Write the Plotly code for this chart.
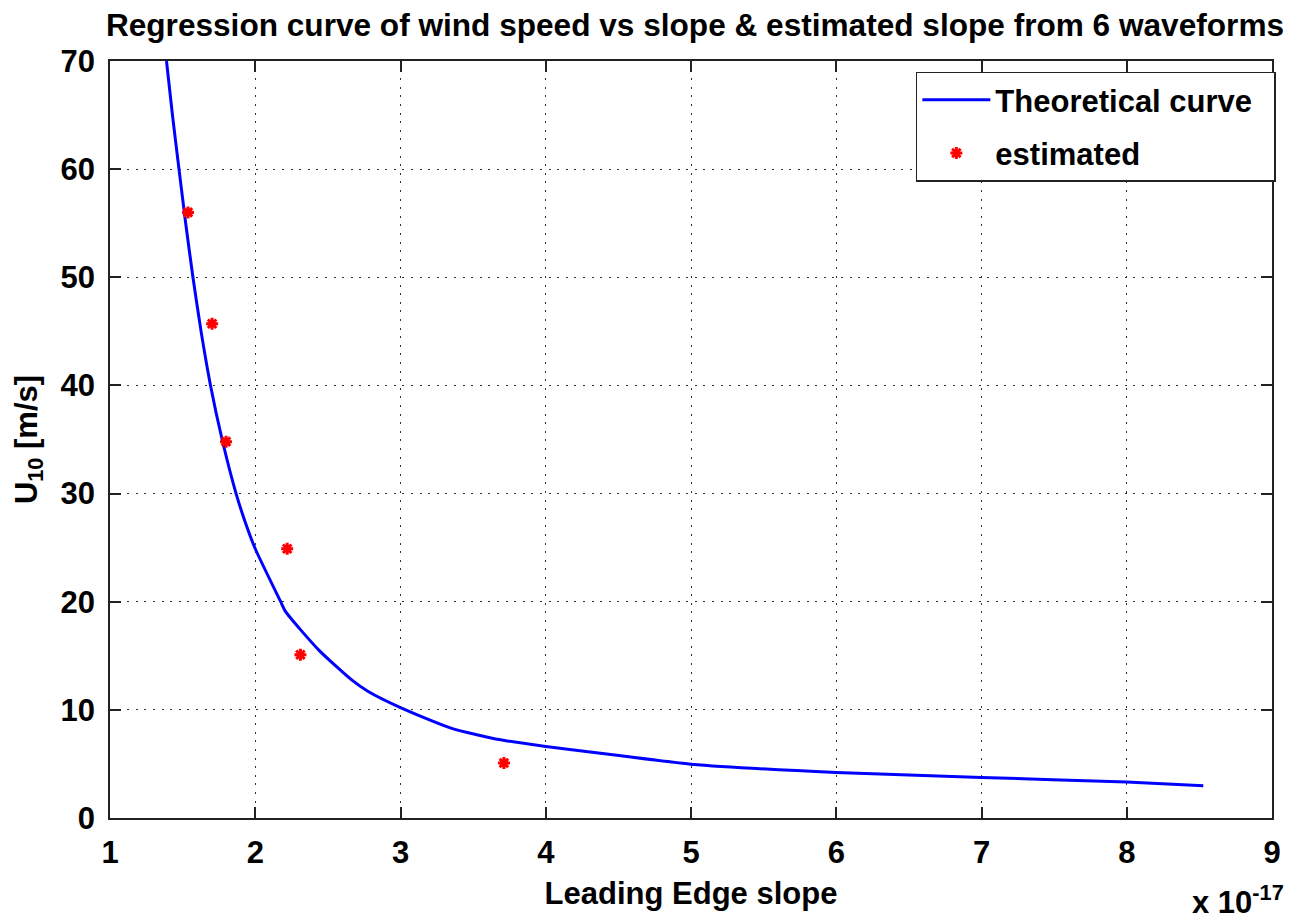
import plotly.graph_objects as go

# Theoretical regression curve
curve_slope = [1.389, 1.430, 1.475, 1.521, 1.571, 1.627, 1.692, 1.772, 1.868, 1.930, 2.0,
               2.175, 2.209, 2.436, 2.664, 2.778, 3.0, 3.347, 3.689, 4.0, 4.49, 5.0,
               6.0, 7.0, 8.0, 8.527]
curve_u10 = [70.0, 65.0, 60.0, 55.0, 50.0, 45.0, 40.0, 35.0, 30.0, 27.4, 24.9,
             20.0, 19.08, 15.55, 12.77, 11.69, 10.2, 8.31, 7.23, 6.61, 5.8, 4.98,
             4.21, 3.75, 3.32, 2.98]

# Estimated points from 6 waveforms
est_slope = [1.537, 1.703, 1.799, 2.220, 2.311, 3.712]
est_u10 = [56.0, 45.7, 34.8, 24.9, 15.1, 5.08]

x_ticks = [1, 2, 3, 4, 5, 6, 7, 8, 9]
y_ticks = [0, 10, 20, 30, 40, 50, 60, 70]

FONT = "Liberation Sans, Arial, sans-serif"
FS = 31

fig = go.Figure()
fig.add_trace(go.Scatter(
    x=curve_slope, y=curve_u10, mode="lines", name="Theoretical curve\u00a0\u00a0",
    line=dict(color="#0000FF", width=3, shape="spline", smoothing=0.6), legendgroup="a"))
fig.add_trace(go.Scatter(
    x=est_slope, y=est_u10, mode="markers", name="estimated",
    marker=dict(symbol="asterisk-open", size=10, color="#FF0000",
                line=dict(color="#FF0000", width=3)), legendgroup="b"))

axis_common = dict(
    showline=True, linecolor="#222222", linewidth=1.5, mirror="ticks",
    ticks="inside", ticklen=11, tickwidth=1.5, tickcolor="#222222",
    showgrid=True, gridcolor="#333333", gridwidth=1, griddash="2px,6.6px",
    zeroline=False,
    tickfont=dict(family=FONT, size=FS, color="black", weight="bold"),
)

fig.update_xaxes(range=[1, 9], tickvals=x_ticks, ticktext=[str(v) for v in x_ticks],
                 title=dict(text="Leading Edge slope", standoff=13,
                            font=dict(family=FONT, size=FS, color="black", weight="bold")),
                 ticklabelstandoff=6, **axis_common)
fig.update_yaxes(range=[0, 70], tickvals=y_ticks, ticktext=[str(v) for v in y_ticks],
                 title=dict(text="U<sub>10</sub> [m/s]", standoff=14,
                            font=dict(family=FONT, size=FS, color="black", weight="bold")),
                 ticklabelstandoff=7, **axis_common)

fig.update_layout(
    width=1293, height=923,
    margin=dict(l=110, r=12, t=61, b=105),
    paper_bgcolor="white", plot_bgcolor="white",
    title=dict(text="<b>Regression curve of wind speed vs slope & estimated slope from 6 waveforms</b>",
               x=0.5375, xanchor="center", y=1 - 25 / 923, yanchor="middle",
               font=dict(family=FONT, size=31.6, color="black")),
    legend=dict(x=0.6935, y=0.986, xanchor="left", yanchor="top",
                bgcolor="white", bordercolor="#222222", borderwidth=1.5,
                font=dict(family=FONT, size=FS, color="black", weight="bold"),
                itemwidth=68, tracegroupgap=10, traceorder="grouped"),
    showlegend=True,
    annotations=[dict(text="<b>x 10<sup>-17</sup></b>", xref="paper", yref="paper",
                      x=1.012, y=-0.138, xanchor="right", yanchor="bottom",
                      showarrow=False,
                      font=dict(family=FONT, size=FS, color="black"))],
)

fig.write_html("out.html")
